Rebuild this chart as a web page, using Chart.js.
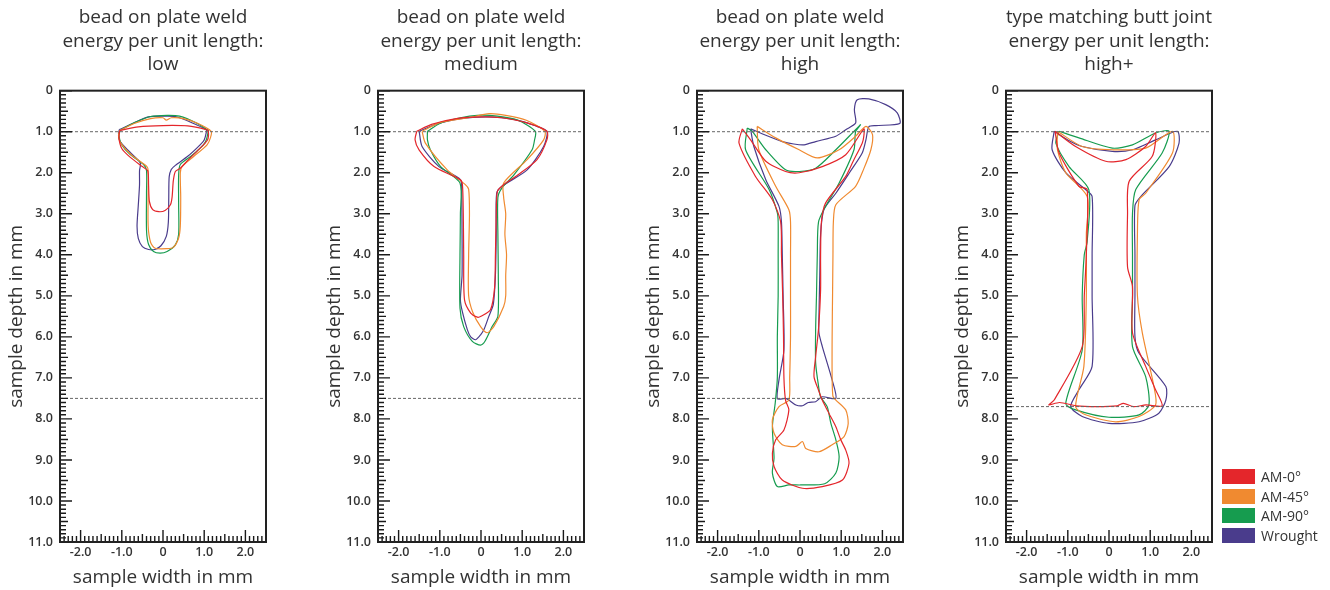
<!DOCTYPE html>
<html>
<head>
<meta charset="utf-8">
<script src="https://cdn.jsdelivr.net/npm/chart.js@4.4.1/dist/chart.umd.min.js"></script>
<style>
  body { margin: 0; background: #fff; width: 1330px; height: 590px; position: relative; overflow: hidden; font-family: "Open Sans", sans-serif; }
  canvas { position: absolute; top: 0; }
  #legend { position: absolute; left: 1222px; top: 467px; font-size: 14px; color: #333; }
  .row { height: 19.5px; display: flex; align-items: center; }
  .box { width: 33px; height: 15px; margin-right: 6px; }
</style>
</head>
<body>
<canvas id="c0" width="286" height="590" style="left:0px"></canvas>
<canvas id="c1" width="286" height="590" style="left:318px"></canvas>
<canvas id="c2" width="286" height="590" style="left:637px"></canvas>
<canvas id="c3" width="286" height="590" style="left:946px"></canvas>
<div id="legend"></div>
<script>
// series names and colours
const seriesNames = ['AM-0°', 'AM-45°', 'AM-90°', 'Wrought'];
const seriesColors = ['#e4262b', '#f08a30', '#169c4f', '#4a3c8c'];

const panelTitles = [
  ['bead on plate weld', 'energy per unit length:', 'low'],
  ['bead on plate weld', 'energy per unit length:', 'medium'],
  ['bead on plate weld', 'energy per unit length:', 'high'],
  ['type matching butt joint', 'energy per unit length:', 'high+']
];

const xTicks = [-2, -1, 0, 1, 2];
const yTicks = [0, 1, 2, 3, 4, 5, 6, 7, 8, 9, 10, 11];

// dashed reference depths (surface line + lower line) per panel
const surfaceDepth = [1.0, 1.0, 1.0, 1.0];
const bottomDepth = [7.5, 7.5, 7.5, 7.7];

// weld outlines, [width mm, depth mm]
const lowAM0 = [[-1.05,0.97],[-0.6,0.88],[0,0.85],[0.6,0.86],[1.05,0.95],[1.1,0.99],[1.08,1.2],[0.85,1.45],[0.6,1.7],[0.42,1.89],[0.3,1.97],[0.25,2.2],[0.22,2.6],[0.18,2.78],[0.05,2.92],[-0.1,2.95],[-0.25,2.9],[-0.33,2.7],[-0.35,2.3],[-0.37,1.95],[-0.5,1.85],[-0.8,1.62],[-1.0,1.41],[-1.07,1.15],[-1.05,0.97]];
const lowAM45 = [[-1.05,0.97],[-0.7,0.8],[-0.3,0.68],[0.0,0.66],[0.08,0.72],[0.2,0.66],[0.5,0.68],[0.85,0.8],[1.17,0.99],[1.15,1.15],[1.07,1.32],[0.75,1.6],[0.46,1.85],[0.42,2.0],[0.43,2.6],[0.42,3.3],[0.38,3.59],[0.25,3.82],[0.1,3.85],[-0.19,3.84],[-0.3,3.7],[-0.36,3.3],[-0.36,2.5],[-0.36,1.95],[-0.39,1.85],[-0.75,1.58],[-1.03,1.27],[-1.08,1.1],[-1.05,0.97]];
const lowAM90 = [[-1.05,0.97],[-0.7,0.78],[-0.3,0.63],[0.1,0.6],[0.4,0.62],[0.8,0.78],[1.1,0.97],[1.1,0.99],[1.05,1.2],[0.98,1.32],[0.7,1.58],[0.42,1.8],[0.38,2.05],[0.38,2.8],[0.38,3.5],[0.3,3.76],[0.1,3.92],[-0.07,3.96],[-0.23,3.92],[-0.35,3.75],[-0.4,3.4],[-0.4,2.5],[-0.4,1.95],[-0.47,1.8],[-0.8,1.55],[-1.0,1.32],[-1.07,1.1],[-1.05,0.97]];
const lowWrought = [[-1.06,0.95],[-0.7,0.78],[-0.35,0.64],[0,0.62],[0.3,0.63],[0.7,0.78],[1.05,0.95],[1.05,1.02],[1.0,1.2],[0.9,1.32],[0.6,1.6],[0.3,1.82],[0.2,1.92],[0.15,2.1],[0.14,2.6],[0.13,3.2],[0.08,3.55],[-0.05,3.78],[-0.2,3.87],[-0.35,3.87],[-0.5,3.8],[-0.6,3.6],[-0.63,3.3],[-0.6,2.8],[-0.57,2.3],[-0.57,1.95],[-0.55,1.76],[-0.8,1.5],[-1.04,1.24],[-1.08,1.05],[-1.06,0.95]];

const medAM0 = [[-1.56,0.99],[-1.2,0.82],[-0.6,0.68],[0,0.64],[0.5,0.66],[1.1,0.78],[1.6,0.99],[1.6,1.2],[1.36,1.68],[0.9,2.05],[0.55,2.29],[0.4,2.45],[0.37,3.0],[0.35,4.0],[0.33,4.8],[0.23,5.34],[0.0,5.5],[-0.09,5.52],[-0.25,5.42],[-0.4,5.1],[-0.42,4.0],[-0.43,3.0],[-0.45,2.3],[-0.5,2.17],[-1.14,1.85],[-1.5,1.45],[-1.6,1.2],[-1.56,0.99]];
const medAM45 = [[-1.43,0.99],[-1.0,0.78],[-0.3,0.66],[0.2,0.56],[0.6,0.6],[1.1,0.72],[1.55,0.99],[1.52,1.2],[1.12,1.68],[0.55,2.25],[0.55,2.6],[0.6,3.0],[0.58,3.5],[0.62,4.0],[0.6,4.5],[0.6,5.0],[0.55,5.26],[0.31,5.75],[0.15,5.9],[-0.01,5.75],[-0.2,5.4],[-0.3,5.0],[-0.3,4.0],[-0.28,3.0],[-0.3,2.4],[-0.38,2.29],[-0.82,1.93],[-1.35,1.28],[-1.43,0.99]];
const medAM90 = [[-1.3,0.99],[-1.0,0.8],[-0.5,0.66],[-0.09,0.6],[0.4,0.62],[0.9,0.72],[1.32,0.99],[1.3,1.2],[1.24,1.44],[0.8,2.05],[0.51,2.37],[0.41,2.6],[0.41,3.5],[0.42,4.5],[0.41,5.5],[0.27,5.75],[0.1,6.1],[-0.01,6.2],[-0.21,6.11],[-0.42,5.75],[-0.51,5.3],[-0.51,4.0],[-0.5,3.0],[-0.51,2.25],[-0.98,1.85],[-1.23,1.44],[-1.3,1.2],[-1.3,0.99]];
const medWrought = [[-1.5,0.99],[-1.1,0.82],[-0.5,0.68],[0.2,0.64],[0.8,0.7],[1.3,0.85],[1.6,0.99],[1.52,1.36],[1.12,1.93],[0.51,2.33],[0.38,2.5],[0.37,3.5],[0.35,4.5],[0.3,5.2],[0.19,5.5],[0.08,5.8],[-0.01,5.95],[-0.13,6.07],[-0.25,6.0],[-0.33,5.83],[-0.45,5.4],[-0.5,5.1],[-0.46,4.5],[-0.46,3.5],[-0.47,2.5],[-0.5,2.17],[-1.02,1.85],[-1.43,1.36],[-1.5,0.99]];

const highAM0 = [[-1.4,0.93],[-1.2,1.2],[-0.83,1.72],[-0.35,1.97],[-0.02,2.0],[0.54,1.85],[1.11,1.56],[1.55,0.93],[1.55,1.1],[1.51,1.28],[1.3,1.7],[1.11,2.09],[0.62,2.74],[0.52,3.2],[0.5,4.0],[0.5,4.85],[0.45,5.8],[0.38,6.48],[0.34,6.97],[0.45,7.3],[0.54,7.54],[0.7,7.86],[0.87,8.19],[0.99,8.51],[1.11,8.76],[1.19,9.08],[1.03,9.49],[0.54,9.65],[0.06,9.69],[-0.43,9.49],[-0.63,9.16],[-0.67,8.84],[-0.59,8.51],[-0.39,8.27],[-0.27,7.78],[-0.35,7.55],[-0.39,7.0],[-0.4,6.0],[-0.42,5.0],[-0.45,4.0],[-0.47,3.2],[-0.67,2.66],[-1.08,2.09],[-1.48,1.28],[-1.4,0.93]];
const highAM45 = [[-1.04,0.87],[-0.59,1.15],[-0.02,1.44],[0.42,1.64],[0.95,1.44],[1.35,1.11],[1.6,0.87],[1.76,1.07],[1.72,1.44],[1.55,1.9],[1.35,2.33],[0.87,2.78],[0.81,3.2],[0.8,4.0],[0.79,5.0],[0.78,6.0],[0.78,7.0],[0.8,7.45],[0.87,7.54],[1.11,7.78],[1.17,8.11],[1.07,8.43],[0.78,8.63],[0.46,8.8],[0.14,8.72],[0.06,8.55],[-0.1,8.67],[-0.43,8.63],[-0.63,8.35],[-0.67,8.02],[-0.51,7.7],[-0.27,7.54],[-0.25,7.0],[-0.23,6.0],[-0.23,5.0],[-0.23,4.0],[-0.23,3.2],[-0.27,2.9],[-0.59,2.33],[-1.0,1.44],[-1.04,0.87]];
const highAM90 = [[-1.28,0.91],[-1.16,0.99],[-0.83,1.44],[-0.35,1.93],[-0.02,1.97],[0.38,1.89],[0.87,1.44],[1.35,0.95],[1.47,0.83],[1.35,1.0],[1.31,1.44],[0.95,2.25],[0.62,2.82],[0.45,3.2],[0.42,4.0],[0.4,5.0],[0.38,5.8],[0.38,6.64],[0.45,7.2],[0.5,7.46],[0.66,7.7],[0.75,8.11],[0.87,8.51],[0.95,8.92],[0.87,9.32],[0.6,9.58],[0.02,9.61],[-0.27,9.61],[-0.55,9.65],[-0.67,9.32],[-0.63,8.95],[-0.67,8.19],[-0.6,7.6],[-0.55,7.0],[-0.55,6.0],[-0.53,5.0],[-0.53,4.0],[-0.53,3.2],[-0.55,2.98],[-0.75,2.41],[-1.32,1.44],[-1.28,0.91]];
const highWrought = [[-1.2,0.93],[-0.8,1.1],[-0.43,1.24],[-0.15,1.3],[0.1,1.32],[0.38,1.24],[0.87,1.11],[1.11,0.95],[1.35,0.79],[1.32,0.46],[1.39,0.22],[1.67,0.2],[2.08,0.34],[2.36,0.54],[2.42,0.8],[1.84,0.85],[1.67,0.88],[1.6,1.2],[1.51,1.52],[1.2,2.0],[0.87,2.5],[0.58,2.9],[0.5,3.5],[0.48,4.5],[0.46,5.5],[0.46,5.9],[0.54,6.23],[0.78,7.05],[0.87,7.5],[0.54,7.46],[0.38,7.58],[0.2,7.6],[0.06,7.68],[-0.1,7.66],[-0.27,7.54],[-0.35,7.5],[-0.55,7.51],[-0.51,7.05],[-0.39,6.32],[-0.41,5.0],[-0.43,4.0],[-0.45,3.2],[-0.51,2.82],[-0.83,2.17],[-1.12,1.36],[-1.2,0.93]];

const plusAM0 = [[-1.31,0.99],[-0.81,1.36],[-0.08,1.72],[0.41,1.68],[0.89,1.36],[1.13,1.03],[1.05,1.6],[0.49,2.21],[0.45,3.0],[0.45,4.3],[0.57,4.77],[0.57,5.9],[0.89,6.72],[1.13,7.29],[1.29,7.68],[0.9,7.66],[0.6,7.7],[0.35,7.62],[0.2,7.68],[-0.3,7.7],[-0.8,7.68],[-1.2,7.6],[-1.46,7.66],[-1.33,7.54],[-0.65,6.24],[-0.6,5.0],[-0.55,4.0],[-0.53,2.41],[-0.73,2.33],[-1.21,1.52],[-1.31,0.99]];
const plusAM45 = [[-1.25,0.99],[-0.65,1.36],[0.08,1.44],[0.89,1.4],[1.54,0.99],[1.54,1.52],[0.89,2.5],[0.73,2.66],[0.69,3.5],[0.69,5.0],[0.81,5.91],[1.09,7.21],[1.13,7.66],[0.73,7.94],[0.16,8.07],[-0.57,7.9],[-0.81,7.7],[-0.61,6.72],[-0.55,5.0],[-0.55,3.5],[-0.53,2.58],[-1.05,2.0],[-1.25,1.44],[-1.25,0.99]];
const plusAM90 = [[-1.21,0.99],[-0.73,1.15],[0.08,1.4],[0.57,1.32],[1.13,1.03],[1.46,0.99],[1.29,1.52],[0.65,2.41],[0.57,3.0],[0.57,4.0],[0.57,5.0],[0.57,6.24],[0.89,6.97],[0.97,7.66],[0.73,7.9],[0.0,7.96],[-0.81,7.78],[-1.05,7.62],[-0.65,6.32],[-0.65,5.0],[-0.6,4.0],[-0.53,3.68],[-0.49,2.41],[-0.97,1.85],[-1.29,1.28],[-1.21,0.99]];
const plusWrought = [[-1.33,0.99],[-1.0,1.2],[-0.65,1.36],[0.08,1.48],[0.57,1.44],[1.13,1.2],[1.66,0.99],[1.7,1.28],[1.46,1.85],[0.77,2.58],[0.63,2.8],[0.63,4.0],[0.63,5.0],[0.63,6.0],[0.73,6.4],[1.38,7.21],[1.38,7.54],[1.21,7.86],[0.73,8.07],[0.0,8.11],[-0.65,7.94],[-0.93,7.7],[-0.73,7.29],[-0.41,6.72],[-0.41,5.0],[-0.41,4.0],[-0.41,2.58],[-0.57,2.41],[-1.05,2.0],[-1.38,1.44],[-1.33,0.99]];

const panelSeries = [
  [lowAM0, lowAM45, lowAM90, lowWrought],
  [medAM0, medAM45, medAM90, medWrought],
  [highAM0, highAM45, highAM90, highWrought],
  [plusAM0, plusAM45, plusAM90, plusWrought]
];

const FONT = '"Open Sans", sans-serif';

// inward minor/major ticks + frame
const innerTicks = {
  id: 'innerTicks',
  afterDraw(chart) {
    const { ctx, chartArea: a, scales: { x, y } } = chart;
    ctx.save();
    ctx.strokeStyle = '#1a1a1a';
    ctx.lineWidth = 1.4;
    ctx.beginPath();
    for (let i = 0; i <= 110; i++) {
      const py = y.getPixelForValue(i / 10);
      const len = i % 10 === 0 ? 12 : (i % 5 === 0 ? 8 : 6);
      ctx.moveTo(a.left, py);
      ctx.lineTo(a.left + len, py);
    }
    for (let i = -25; i <= 25; i++) {
      const px = x.getPixelForValue(i / 10);
      const len = i % 10 === 0 ? 12 : (i % 5 === 0 ? 8 : 6);
      ctx.moveTo(px, a.bottom);
      ctx.lineTo(px, a.bottom - len);
    }
    ctx.stroke();
    ctx.strokeStyle = '#222';
    ctx.lineWidth = 2;
    ctx.strokeRect(a.left, a.top, a.right - a.left, a.bottom - a.top);
    ctx.restore();
  }
};

function refLine(depth) {
  return {
    data: [{ x: -2.5, y: depth }, { x: 2.5, y: depth }],
    borderColor: '#666', borderWidth: 1, borderDash: [3, 2],
    pointRadius: 0, showLine: true
  };
}

panelSeries.forEach((series, p) => {
  const datasets = series.map((pts, s) => ({
    label: seriesNames[s],
    data: pts.map(([x, y]) => ({ x, y })),
    borderColor: seriesColors[s],
    borderWidth: 1.2,
    pointRadius: 0,
    showLine: true,
    tension: 0.25
  }));
  datasets.unshift(refLine(surfaceDepth[p]), refLine(bottomDepth[p]));

  new Chart(document.getElementById('c' + p), {
    type: 'scatter',
    data: { datasets },
    options: {
      responsive: false,
      animation: false,
      layout: { padding: { right: 20 } },
      plugins: {
        legend: { display: false },
        tooltip: { enabled: false },
        title: {
          display: true, text: panelTitles[p], fullSize: false,
          color: '#333', padding: { top: 6, bottom: 14 },
          font: { family: FONT, size: 19, weight: 'normal', lineHeight: 1.24 }
        }
      },
      scales: {
        x: {
          type: 'linear', min: -2.5, max: 2.5,
          afterBuildTicks: s => { s.ticks = xTicks.map(v => ({ value: v })); },
          afterFit: s => { s.height = 48; },
          grid: { display: false, drawTicks: false },
          border: { display: false },
          ticks: {
            padding: 3, color: '#333', maxRotation: 0,
            font: { family: FONT, size: 12.5, weight: '600' },
            callback: v => v === 0 ? '0' : v.toFixed(1)
          },
          title: {
            display: true, text: 'sample width in mm', color: '#333',
            padding: { top: 0, bottom: 1 },
            font: { family: FONT, size: 19, weight: 'normal' }
          }
        },
        y: {
          type: 'linear', reverse: true, min: 0, max: 11,
          afterBuildTicks: s => { s.ticks = yTicks.map(v => ({ value: v })); },
          afterFit: s => { s.width = 60; },
          grid: { display: false, drawTicks: false },
          border: { display: false },
          ticks: {
            padding: 7, color: '#333',
            font: { family: FONT, size: 12.5, weight: '600' },
            callback: v => v === 0 ? '0' : v.toFixed(1)
          },
          title: {
            display: true, text: 'sample depth in mm', color: '#333',
            padding: { top: 5, bottom: 0 },
            font: { family: FONT, size: 19, weight: 'normal' }
          }
        }
      }
    },
    plugins: [innerTicks]
  });
});

// legend
const legend = document.getElementById('legend');
seriesNames.forEach((name, i) => {
  const row = document.createElement('div');
  row.className = 'row';
  const box = document.createElement('div');
  box.className = 'box';
  box.style.background = seriesColors[i];
  row.appendChild(box);
  row.appendChild(document.createTextNode(name));
  legend.appendChild(row);
});
</script>
</body>
</html>
